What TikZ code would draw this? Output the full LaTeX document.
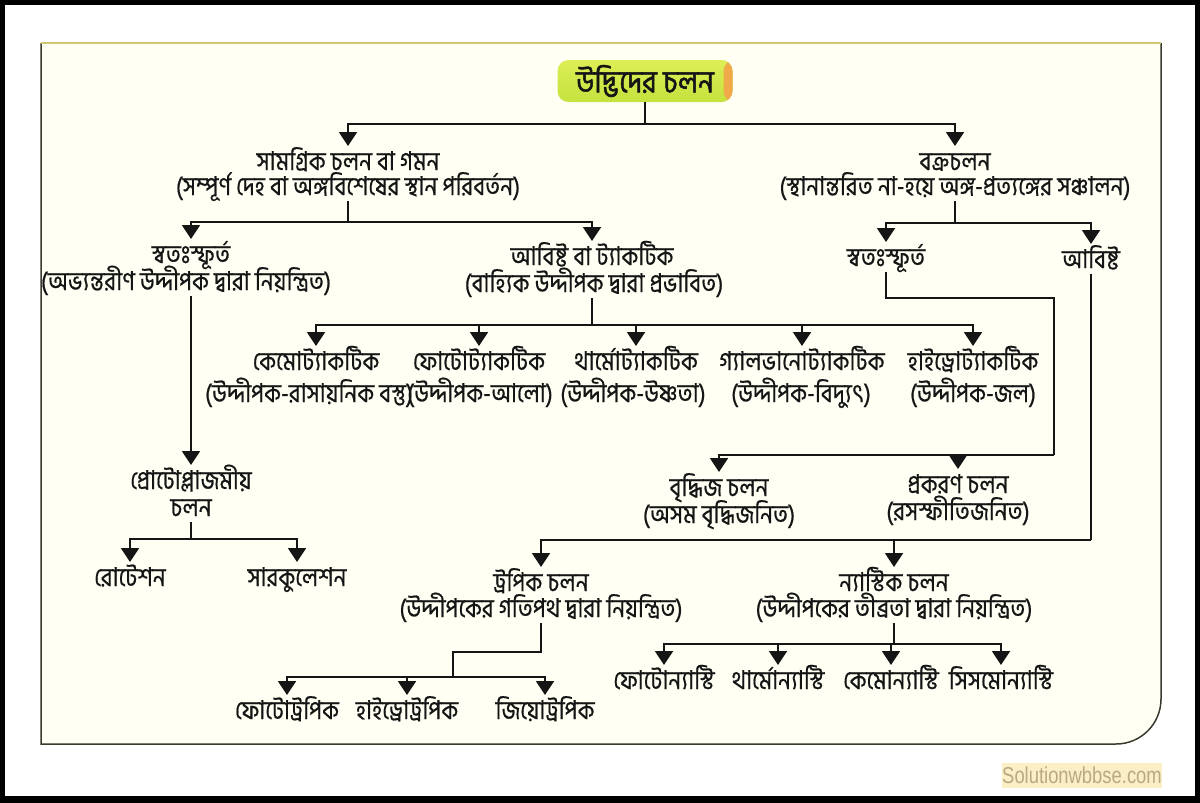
\documentclass[tikz,border=0pt]{standalone}
\usepackage{fontspec}
\usetikzlibrary{arrows.meta}
\newfontfamily\bn[Script=Bengali,FakeStretch=0.87,FakeBold=0.6]{Hind Siliguri}
\newfontfamily\bnt[Script=Bengali,FakeStretch=0.9,FakeBold=1.6]{Hind Siliguri}
\newfontfamily\wm[FakeStretch=0.8]{Liberation Sans}
\definecolor{panel}{HTML}{FFFFF4}
\definecolor{edge}{HTML}{3A3A2E}
\definecolor{topedge}{HTML}{CFC870}
\definecolor{lime}{HTML}{C4E23E}
\definecolor{limetop}{HTML}{DDEE55}
\definecolor{orng}{HTML}{F2A84A}
\definecolor{wmfill}{HTML}{FBEFC6}
\definecolor{wmtext}{HTML}{BCA880}
\definecolor{ink}{HTML}{151515}
\tikzset{
  lbl/.style={font=\bn\fontsize{26}{30}\selectfont, text=ink, inner sep=0pt, outer sep=5pt, text height=19pt, text depth=1pt},
  ln/.style={line width=1.9pt, draw=ink},
  arr/.style={line width=1.9pt, draw=ink, -{Triangle[width=18pt,length=14pt]}},
  titlebox/.style={font=\bnt\fontsize{31}{34}\selectfont, text=ink, rounded corners=11pt, minimum width=175pt, minimum height=42pt, inner sep=0pt},
}
\begin{document}
\begin{tikzpicture}[x=1pt,y=-1pt]
\useasboundingbox (0,0) rectangle (1200,803);
\fill[black] (0,0) rectangle (1200,803);
\fill[white] (5,5) rectangle (1195,796);
% panel
\fill[panel] (41,43) -- (1161,43) -- (1161,699) arc[start angle=0,end angle=90,radius=45] -- (41,744) -- cycle;
\draw[edge, line width=1.5pt] (41,43) -- (41,744) -- (1116,744) arc[start angle=90,end angle=0,radius=45] -- (1161,43);
\draw[topedge, line width=2.2pt] (41,43) -- (1161,43);

% title
\node[titlebox, top color=limetop, bottom color=lime, path picture={\shade[left color=lime, right color=orng] ([xshift=-9pt]path picture bounding box.north east) rectangle (path picture bounding box.south east);}] (title) at (645,81) {উদ্ভিদের চলন};

% level 1
\node[lbl] (samagrik) at (348,161) {সামগ্রিক চলন বা গমন};
\node[lbl] (samagrikB) at (348,186) {(সম্পূর্ণ দেহ বা অঙ্গবিশেষের স্থান পরিবর্তন)};
\node[lbl] (bakra) at (955,161) {বক্রচলন};
\node[lbl] (bakraB) at (955,186) {(স্থানান্তরিত না-হয়ে অঙ্গ-প্রত্যঙ্গের সঞ্চালন)};

% level 2 left
\node[lbl] (svatahL) at (191,254) {স্বতঃস্ফূর্ত};
\node[lbl] (svatahLB) at (186,281) {(অভ্যন্তরীণ উদ্দীপক দ্বারা নিয়ন্ত্রিত)};
\node[lbl] (abishtaT) at (592,256) {আবিষ্ট বা ট্যাকটিক};
\node[lbl] (abishtaTB) at (594,283) {(বাহ্যিক উদ্দীপক দ্বারা প্রভাবিত)};

% level 2 right
\node[lbl] (svatahR) at (886,257) {স্বতঃস্ফূর্ত};
\node[lbl] (abishtaR) at (1091,259) {আবিষ্ট};

% tactic
\node[lbl] (t1) at (316,361) {কেমোট্যাকটিক};
\node[lbl] (t2) at (479,361) {ফোটোট্যাকটিক};
\node[lbl] (t3) at (636,361) {থার্মোট্যাকটিক};
\node[lbl] (t4) at (802,361) {গ্যালভানোট্যাকটিক};
\node[lbl] (t5) at (973,361) {হাইড্রোট্যাকটিক};
\node[lbl] (t1B) at (309,393) {(উদ্দীপক-রাসায়নিক বস্তু)};
\node[lbl] (t2B) at (480,393) {(উদ্দীপক-আলো)};
\node[lbl] (t3B) at (633,393) {(উদ্দীপক-উষ্ণতা)};
\node[lbl] (t4B) at (801,393) {(উদ্দীপক-বিদ্যুৎ)};
\node[lbl] (t5B) at (973,393) {(উদ্দীপক-জল)};

% protoplasmic
\node[lbl] (proto) at (191,480) {প্রোটোপ্লাজমীয়};
\node[lbl] (protoB) at (191,507) {চলন};
\node[lbl] (rot) at (130,577) {রোটেশন};
\node[lbl] (sark) at (297,577) {সারকুলেশন};

% growth / turgor
\node[lbl] (vriddhij) at (719,487) {বৃদ্ধিজ চলন};
\node[lbl] (vriddhijB) at (719,514) {(অসম বৃদ্ধিজনিত)};
\node[lbl] (prakaran) at (958,484) {প্রকরণ চলন};
\node[lbl] (prakaranB) at (958,511) {(রসস্ফীতিজনিত)};

% tropic / nastic
\node[lbl] (tropic) at (541,582) {ট্রপিক চলন};
\node[lbl] (tropicB) at (541,608) {(উদ্দীপকের গতিপথ দ্বারা নিয়ন্ত্রিত)};
\node[lbl] (nastic) at (894,582) {ন্যাস্টিক চলন};
\node[lbl] (nasticB) at (894,608) {(উদ্দীপকের তীব্রতা দ্বারা নিয়ন্ত্রিত)};

\node[lbl] (tr1) at (287,710) {ফোটোট্রপিক};
\node[lbl] (tr2) at (407,710) {হাইড্রোট্রপিক};
\node[lbl] (tr3) at (545,710) {জিয়োট্রপিক};

\node[lbl] (n1) at (664,680) {ফোটোন্যাস্টি};
\node[lbl] (n2) at (778,680) {থার্মোন্যাস্টি};
\node[lbl] (n3) at (891,680) {কেমোন্যাস্টি};
\node[lbl] (n4) at (1001,680) {সিসমোন্যাস্টি};

% junctions
\coordinate (j0) at (645,124);
\coordinate (j1) at (348,222);
\coordinate (j2) at (955,223);
\coordinate (j3) at (592,325);
\coordinate (c1) at (1054,298);
\coordinate (c2) at (1054,455);
\coordinate (c3) at (1091,540);
\coordinate (c4) at (191,539);
\coordinate (c5) at (453,652);
\coordinate (c6) at (453,677);
\coordinate (c7) at (894,644);

% connectors
\draw[ln] (title.south) -- (j0);
\draw[arr] (j0) -| (samagrik.north);
\draw[arr] (j0) -| (bakra.north);

\draw[ln] (samagrikB.south) -- (j1);
\draw[arr] (j1) -| (svatahL.north);
\draw[arr] (j1) -| (abishtaT.north);

\draw[ln] (bakraB.south) -- (j2);
\draw[arr] (j2) -| (svatahR.north);
\draw[arr] (j2) -| (abishtaR.north);

\draw[arr] (svatahL |- svatahLB.south) -- (proto.north);

\draw[ln] (abishtaT |- abishtaTB.south) -- (j3);
\draw[arr] (j3) -| (t1.north);
\draw[arr] (j3) -| (t5.north);
\draw[arr] (t2.north |- j3) -- (t2.north);
\draw[arr] (t3.north |- j3) -- (t3.north);
\draw[arr] (t4.north |- j3) -- (t4.north);

\draw[ln] (svatahR.south) |- (c1) -- (c2);
\draw[arr] (c2) -| (vriddhij.north);
\draw[arr] (prakaran.north |- c2) -- (prakaran.north);

\draw[ln] (abishtaR.south) -- (c3);
\draw[arr] (c3) -| (tropic.north);
\draw[arr] (nastic.north |- c3) -- (nastic.north);

\draw[ln] (protoB.south) -- (c4);
\draw[arr] (c4) -| (rot.north);
\draw[arr] (c4) -| (sark.north);

\draw[ln] (tropicB.south) |- (c5) -- (c6);
\draw[arr] (c6) -| (tr1.north);
\draw[arr] (c6) -| (tr3.north);
\draw[arr] (tr2.north |- c6) -- (tr2.north);

\draw[ln] (nasticB.south) -- (c7);
\draw[arr] (c7) -| (n1.north);
\draw[arr] (c7) -| (n4.north);
\draw[arr] (n2.north |- c7) -- (n2.north);
\draw[arr] (n3.north |- c7) -- (n3.north);

% watermark
\node[fill=wmfill, text=wmtext, font=\wm\fontsize{23}{26}\selectfont, minimum width=160pt, minimum height=25pt, inner sep=0pt] (wmark) at (1082,775.5) {Solutionwbbse.com};
\end{tikzpicture}
\end{document}
